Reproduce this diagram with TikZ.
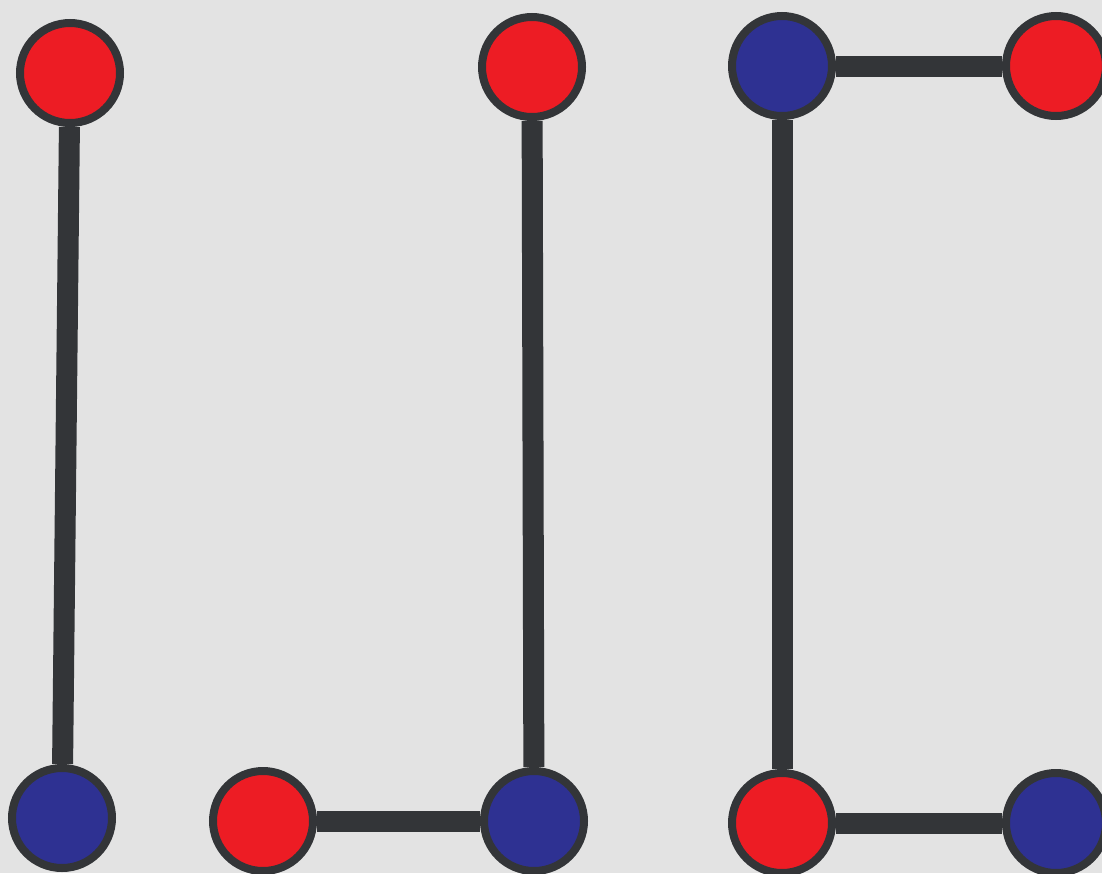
\documentclass[tikz,border=0pt]{standalone}
\definecolor{bggray}{HTML}{E3E3E3}
\definecolor{rim}{HTML}{333538}
\definecolor{ballred}{HTML}{ED1C24}
\definecolor{ballblue}{HTML}{2E3192}
\tikzstyle{ball} = [circle, minimum size=100pt, inner sep=0pt, line width=8pt, draw=rim]
\tikzstyle{redball} = [ball, fill=ballred]
\tikzstyle{blueball} = [ball, fill=ballblue]
\tikzstyle{bond} = [line width=21pt, draw=rim]
\begin{document}
\begin{tikzpicture}[x=1pt, y=-1pt]
\clip (0,0) rectangle (1102,873);
\fill[bggray] (0,0) rectangle (1102,873);
% first pair
\node[redball]  (r1) at (70,73)   {};
\node[blueball] (b1) at (62,818)  {};
% second chain
\node[redball]  (r2) at (263,821) {};
\node[blueball] (b2) at (534,821) {};
\node[redball]  (r3) at (532,67)  {};
% third chain
\node[blueball] (b3) at (782,66)  {};
\node[redball]  (r4) at (1056,66) {};
\node[redball]  (r5) at (782,823) {};
\node[blueball] (b4) at (1056,823) {};
\draw[bond] (r1) -- (b1);
\draw[bond] (r2) -- (b2);
\draw[bond] (b2) -- (r3);
\draw[bond] (r4) -- (b3);
\draw[bond] (b3) -- (r5);
\draw[bond] (r5) -- (b4);
\end{tikzpicture}
\end{document}
